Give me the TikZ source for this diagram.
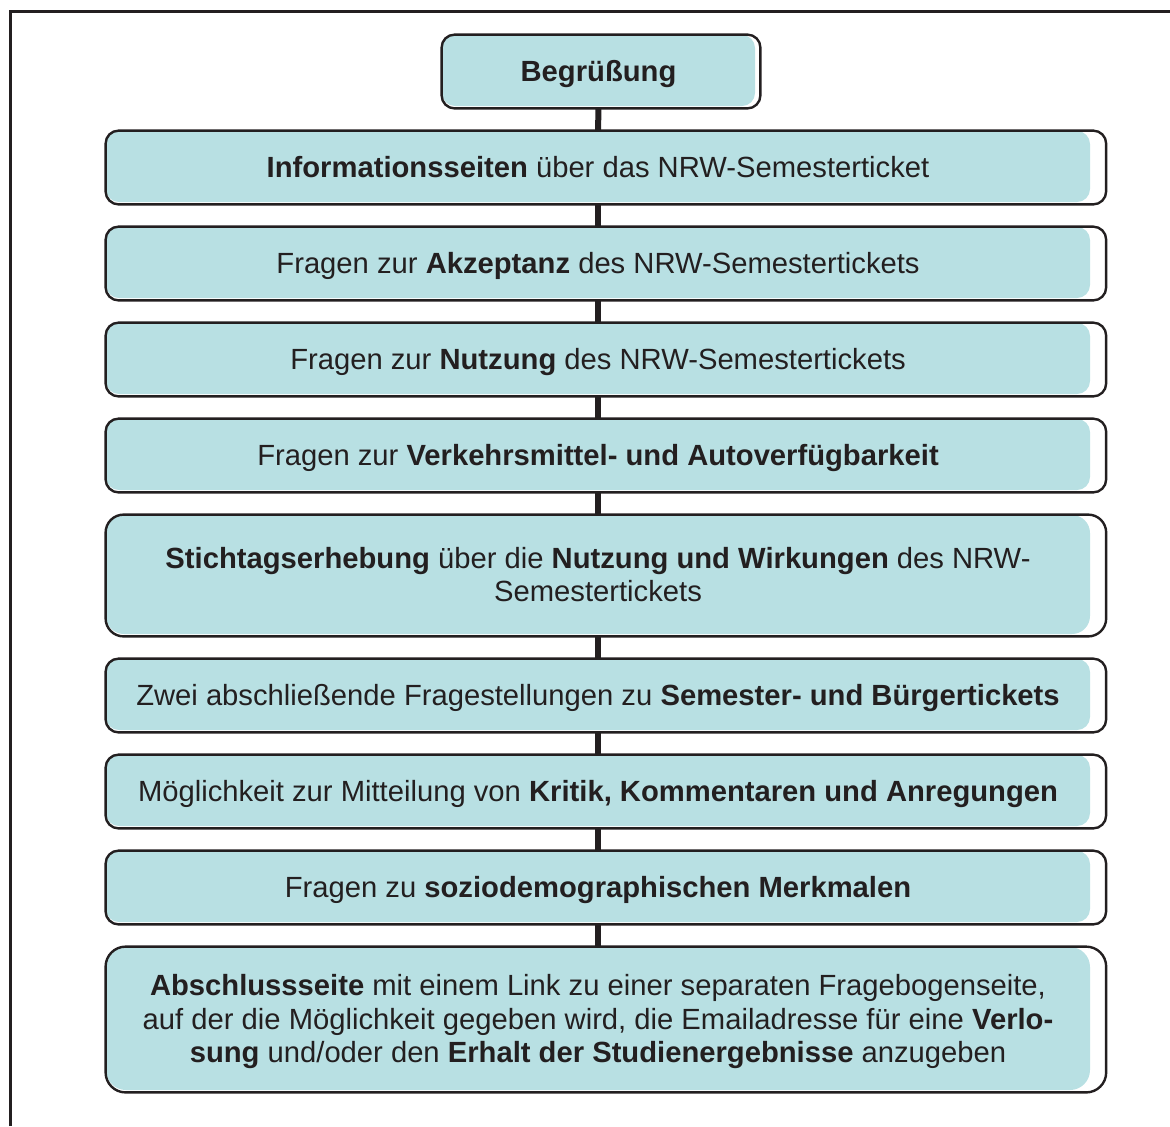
\documentclass[tikz,border=0pt]{standalone}
\usepackage{fontspec}
\setmainfont{Liberation Sans}
\usepackage{tikz}
\usetikzlibrary{calc,positioning}
\definecolor{boxfill}{RGB}{184,224,227}
\definecolor{ink}{RGB}{35,31,32}

\begin{document}
\begin{tikzpicture}[x=0.5pt, y=-0.5pt, font=\fontsize{14.6}{16.8}\selectfont, text=ink]
   \useasboundingbox (0,0) rectangle (1170,1126);
   \draw[ink, line width=1.5pt] (10,1126) -- (10,11) -- (1170,11);
   \begin{scope}[every node/.style={fill=boxfill, rounded corners=6.5pt, minimum width=492pt, minimum height=35.5pt, inner sep=0pt, align=center, text height=11.2pt, text depth=0pt}]
    \node (b0) at (598.5,70.5) [minimum width=156.5pt] {\textbf{Begrüßung}};
    \node (b1) at (598,166.5) {\textbf{Informationsseiten} über das NRW-Semesterticket};
    \node (b2) at (598,262.5) {Fragen zur \textbf{Akzeptanz} des NRW-Semestertickets};
    \node (b3) at (598,358.5) {Fragen zur \textbf{Nutzung} des NRW-Semestertickets};
    \node (b4) at (598,454.5) {Fragen zur \textbf{Verkehrsmittel- und Autoverfügbarkeit}};
    \node (b5) at (598,574.5) [minimum height=59.5pt, rounded corners=9pt, text height={}, text depth={}] {\textbf{Stichtagserhebung} über die \textbf{Nutzung und Wirkungen} des NRW-\\Semestertickets};
    \node (b6) at (598,694.5) {Zwei abschließende Fragestellungen zu \textbf{Semester- und Bürgertickets}};
    \node (b7) at (598,790.5) {Möglichkeit zur Mitteilung von \textbf{Kritik, Kommentaren und Anregungen}};
    \node (b8) at (598,886.5) {Fragen zu \textbf{soziodemographischen Merkmalen}};
    \node (b9) at (598,1018.5) [minimum height=71.5pt, rounded corners=10pt, text height={}, text depth={}] {\textbf{Abschlussseite} mit einem Link zu einer separaten Fragebogenseite,\\auf der die Möglichkeit gegeben wird, die Emailadresse für eine \textbf{Verlo-}\\\smash{\textbf{sung} und/oder den \textbf{Erhalt der Studienergebnisse} anzugeben}};
   \end{scope}
   % outlines stick out on the right of the fill
   \foreach \n/\r in {b0/6.5,b1/6.5,b2/6.5,b3/6.5,b4/6.5,b5/9,b6/6.5,b7/6.5,b8/6.5,b9/10}
    \draw[ink, line width=1.2pt, rounded corners=\r pt] (\n.north west) rectangle ($(\n.south west)!1.016!(\n.south east)+(0,2)$);
   \foreach \a/\b in {b0/b1,b1/b2,b2/b3,b3/b4,b4/b5,b5/b6,b6/b7,b7/b8,b8/b9}
    \draw[ink, line width=3pt] ($(\a.south)+(0,2)$) -- (\b.north);
\end{tikzpicture}
\end{document}
